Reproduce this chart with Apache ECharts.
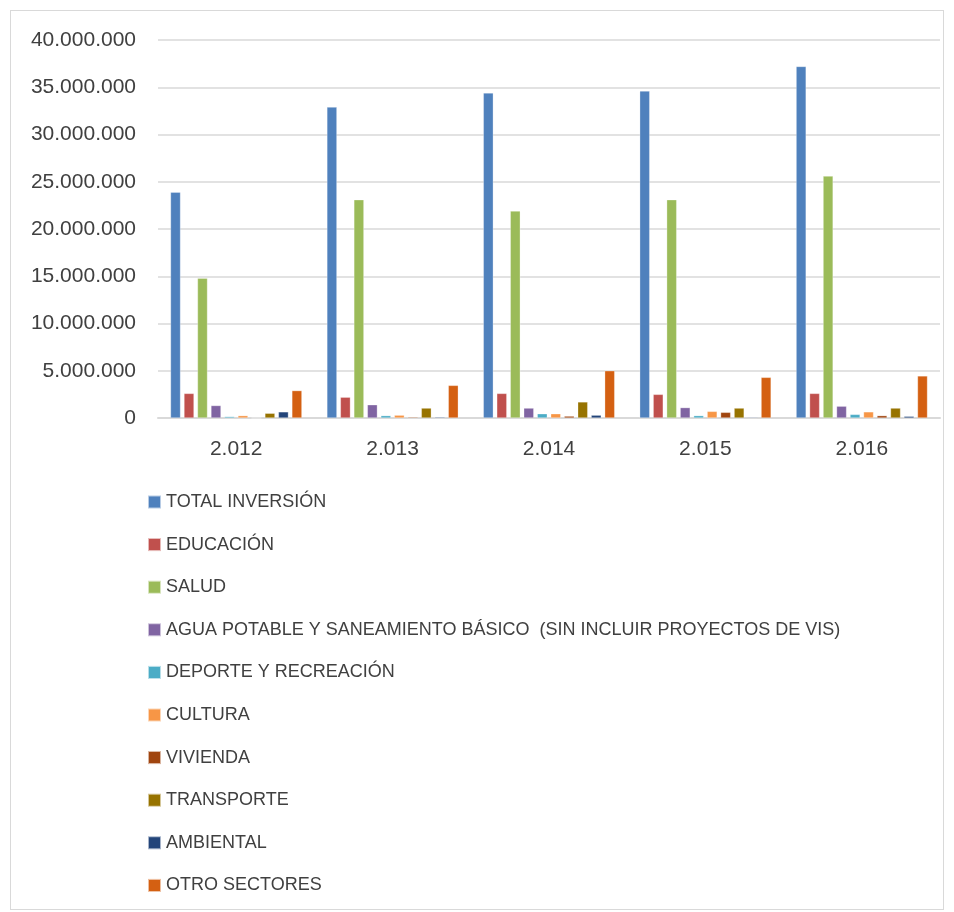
<!DOCTYPE html>
<html>
<head>
<meta charset="utf-8">
<script src="https://cdn.jsdelivr.net/npm/echarts@6/dist/echarts.min.js"></script>
<style>
  html, body { margin: 0; padding: 0; background: #fff; }
  #chart { width: 954px; height: 912px; }
  #frame { position: absolute; left: 10px; top: 10px; width: 934px; height: 900px; border: 1.5px solid #d9d9d9; box-sizing: border-box; pointer-events: none; }
</style>
</head>
<body>
<div id="chart"></div>
<div id="frame"></div>
<script>
// Years on the category axis
const years = ['2.012', '2.013', '2.014', '2.015', '2.016'];

// Investment by sector (pesos)
const totalInversion = [23900000, 32900000, 34400000, 34600000, 37200000];
const educacion      = [2600000, 2200000, 2600000, 2500000, 2600000];
const salud          = [14800000, 23100000, 21900000, 23100000, 25600000];
const aguaPotable    = [1320000, 1400000, 1050000, 1100000, 1250000];
const deporte        = [150000, 250000, 450000, 250000, 380000];
const cultura        = [250000, 300000, 450000, 700000, 650000];
const vivienda       = [0, 100000, 200000, 600000, 250000];
const transporte     = [500000, 1050000, 1700000, 1050000, 1050000];
const ambiental      = [650000, 100000, 300000, 80000, 180000];
const otroSectores   = [2900000, 3450000, 5000000, 4300000, 4450000];

const seriesNames = [
  'TOTAL INVERSIÓN',
  'EDUCACIÓN',
  'SALUD',
  'AGUA POTABLE Y SANEAMIENTO BÁSICO  (SIN INCLUIR PROYECTOS DE VIS)',
  'DEPORTE Y RECREACIÓN',
  'CULTURA',
  'VIVIENDA',
  'TRANSPORTE',
  'AMBIENTAL',
  'OTRO SECTORES'
];
const seriesValues = [totalInversion, educacion, salud, aguaPotable, deporte,
                      cultura, vivienda, transporte, ambiental, otroSectores];
const colors = ['#4F81BD', '#C0504D', '#9BBB59', '#8064A2', '#4BACC6',
                '#F79646', '#A0450F', '#977300', '#23457A', '#D46012'];

// Thousands separated by dots
function fmt(v) {
  return String(v).replace(/\B(?=(\d{3})+(?!\d))/g, '.');
}

const chart = echarts.init(document.getElementById('chart'), null, { renderer: 'canvas' });
chart.setOption({
  animation: false,
  color: colors,
  textStyle: { fontFamily: 'Liberation Sans, Arial, sans-serif' },
  grid: { left: 158, right: 14, top: 40, bottom: 494, containLabel: false },
  legend: {
    orient: 'vertical',
    left: 147,
    top: 493,
    padding: 0,
    itemWidth: 13,
    itemHeight: 13,
    itemGap: 24.6,
    icon: 'rect',
    data: seriesNames,
    textStyle: { fontSize: 18, color: '#404040', lineHeight: 18 }
  },
  xAxis: {
    type: 'category',
    data: years,
    axisLine: { lineStyle: { color: '#d9d9d9', width: 2 } },
    axisTick: { show: false },
    axisLabel: { fontSize: 21, color: '#404040', margin: 21 }
  },
  yAxis: {
    type: 'value',
    min: 0,
    max: 40000000,
    interval: 5000000,
    axisLine: { show: false },
    axisTick: { show: false },
    splitLine: { lineStyle: { color: '#d9d9d9', width: 1.5 } },
    axisLabel: { fontSize: 21, color: '#404040', margin: 22, formatter: fmt }
  },
  series: seriesNames.map((name, i) => ({
    name: name,
    type: 'bar',
    data: seriesValues[i],
    barGap: '35%',
    barCategoryGap: '16%',
    itemStyle: { borderColor: 'rgba(255,255,255,0.6)', borderWidth: 0.5 }
  }))
});
</script>
</body>
</html>
